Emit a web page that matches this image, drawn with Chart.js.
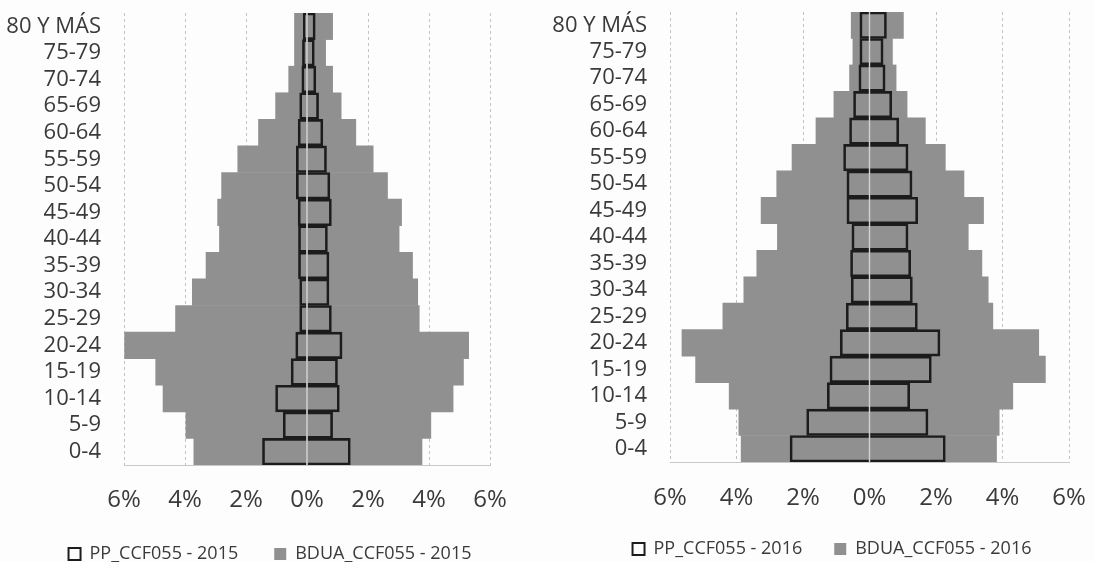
<!DOCTYPE html>
<html>
<head>
<meta charset="utf-8">
<script src="https://cdn.jsdelivr.net/npm/chart.js@4/dist/chart.umd.min.js"></script>
<style>
  html, body { margin: 0; padding: 0; background: #fdfdfd; overflow: hidden; width: 1094px; height: 562px; }
  .wrap { position: absolute; top: 0; height: 562px; }
  #w2015 { left: 0; width: 547px; }
  #w2016 { left: 547px; width: 580px; }
</style>
</head>
<body>
<div class="wrap" id="w2015"><canvas id="c2015"></canvas></div>
<div class="wrap" id="w2016"><canvas id="c2016"></canvas></div>
<script>
'use strict';

// ── Data (percent of population, top row first) ───────────────
const ageGroups = [
  '80 Y MÁS', '75-79', '70-74', '65-69', '60-64', '55-59', '50-54', '45-49',
  '40-44', '35-39', '30-34', '25-29', '20-24', '15-19', '10-14', '5-9', '0-4',
];

const xTicks = [-6, -4, -2, 0, 2, 4, 6];

const bduaLeft2015  = [0.41, 0.41, 0.60, 1.03, 1.59, 2.27, 2.80, 2.93, 2.87, 3.31, 3.76, 4.31, 5.98, 4.96, 4.72, 3.97, 3.71];
const bduaRight2015 = [0.84, 0.61, 0.84, 1.12, 1.60, 2.17, 2.64, 3.10, 3.02, 3.46, 3.63, 3.68, 5.30, 5.13, 4.79, 4.06, 3.77];
const ppLeft2015    = [0.12, 0.15, 0.17, 0.24, 0.29, 0.35, 0.35, 0.29, 0.28, 0.28, 0.24, 0.24, 0.37, 0.52, 1.03, 0.78, 1.46];
const ppRight2015   = [0.27, 0.24, 0.29, 0.38, 0.52, 0.64, 0.75, 0.80, 0.67, 0.72, 0.72, 0.80, 1.15, 1.00, 1.06, 0.84, 1.42];

const bduaLeft2016  = [0.55, 0.50, 0.60, 1.07, 1.61, 2.33, 2.79, 3.26, 2.77, 3.39, 3.78, 4.41, 5.64, 5.23, 4.22, 3.93, 3.86];
const bduaRight2016 = [1.02, 0.69, 0.80, 1.13, 1.68, 2.28, 2.84, 3.43, 2.97, 3.38, 3.57, 3.71, 5.09, 5.29, 4.31, 3.90, 3.82];
const ppLeft2016    = [0.29, 0.29, 0.32, 0.48, 0.60, 0.78, 0.68, 0.68, 0.53, 0.57, 0.55, 0.70, 0.88, 1.19, 1.27, 1.89, 2.39];
const ppRight2016   = [0.51, 0.41, 0.47, 0.67, 0.88, 1.16, 1.28, 1.45, 1.16, 1.24, 1.29, 1.44, 2.12, 1.86, 1.21, 1.76, 2.28];

// ── Styles ────────────────────────────────────────────────────
const TEXT    = '#3a3a3a';
const GRAY    = '#909090';
const OUTLINE = '#1c1c1c';
const FONT    = "'Open Sans', 'Noto Sans', sans-serif";
const CLEAR   = 'rgba(0,0,0,0)';

// light line along 0 where the two halves meet
const zeroLine = {
  id: 'zeroLine',
  afterDatasetsDraw(chart) {
    const { ctx, chartArea } = chart;
    const x = chart.scales.x.getPixelForValue(0);
    ctx.save();
    ctx.strokeStyle = 'rgba(215,215,215,0.8)';
    ctx.lineWidth = 1.5;
    ctx.beginPath();
    ctx.moveTo(x, chartArea.top);
    ctx.lineTo(x, chartArea.bottom);
    ctx.stroke();
    ctx.restore();
  },
};

function neg(arr) { return arr.map((v) => -v); }

function makePyramid(canvasId, year, series, lay) {
  const ppStyle = {
    backgroundColor: 'rgba(255,255,255,0)',
    borderColor: OUTLINE,
    borderWidth: 2,
    grouped: false,
    barPercentage: 1,
    categoryPercentage: 1,
  };
  const bduaStyle = {
    backgroundColor: GRAY,
    borderWidth: 0,
    grouped: false,
    barPercentage: 1,
    categoryPercentage: 1,
  };

  return new Chart(document.getElementById(canvasId), {
    type: 'bar',
    data: {
      labels: ageGroups,
      datasets: [
        { label: `PP_CCF055 - ${year}`,   data: neg(series.ppLeft),   ...ppStyle },
        { label: `PP_CCF055 - ${year}`,   data: series.ppRight,       ...ppStyle },
        { label: `BDUA_CCF055 - ${year}`, data: neg(series.bduaLeft), ...bduaStyle },
        { label: `BDUA_CCF055 - ${year}`, data: series.bduaRight,     ...bduaStyle },
      ],
    },
    plugins: [zeroLine],
    options: {
      indexAxis: 'y',
      responsive: true,
      maintainAspectRatio: false,
      animation: false,
      layout: { padding: { top: lay.top, left: 0, right: lay.right, bottom: lay.bottom } },
      plugins: {
        tooltip: { enabled: false },
        legend: {
          position: 'bottom',
          labels: {
            filter: (item) => item.datasetIndex === 0 || item.datasetIndex === 2,
            color: TEXT,
            font: { family: FONT, size: 18 },
            boxWidth: 12,
            boxHeight: 12,
            padding: lay.legendPad,
          },
        },
      },
      scales: {
        x: {
          min: -6,
          max: 6,
          afterBuildTicks: (s) => { s.ticks = xTicks.map((v) => ({ value: v })); },
          afterFit: (s) => { s.height = lay.xHeight; },
          ticks: {
            color: TEXT,
            font: { family: FONT, size: 24 },
            padding: 0,
            maxRotation: 0,
            callback: (v) => Math.abs(v) + '%',
          },
          grid: { color: '#c2c2c2', lineWidth: 1, drawTicks: true, tickLength: lay.xTick, tickColor: CLEAR },
          border: { display: true, color: '#c8c8c8', width: 1, dash: [3, 3] },
        },
        y: {
          afterFit: (s) => { s.width = lay.yWidth; },
          ticks: {
            color: TEXT,
            font: { family: FONT, size: 22, lineHeight: 1 },
            padding: 0,
            autoSkip: false,
          },
          grid: { display: true, drawOnChartArea: false, drawTicks: true, tickLength: 23, color: CLEAR, tickColor: CLEAR },
          border: { display: false },
        },
        // empty spacer on the right so the legend sits where it does in the original
        y2: {
          type: 'category',
          position: 'right',
          display: true,
          afterFit: (s) => { s.width = lay.spacer; },
          ticks: { display: false },
          grid: { display: false, drawTicks: false },
          border: { display: false },
        },
      },
    },
  });
}

makePyramid('c2015', 2015, {
  bduaLeft: bduaLeft2015, bduaRight: bduaRight2015,
  ppLeft: ppLeft2015, ppRight: ppRight2015,
}, { top: 13, right: 7, spacer: 50, bottom: -11, legendPad: 36, xHeight: 44, xTick: 21, yWidth: 124 });

makePyramid('c2016', 2016, {
  bduaLeft: bduaLeft2016, bduaRight: bduaRight2016,
  ppLeft: ppLeft2016, ppRight: ppRight2016,
}, { top: 12, right: 10, spacer: 48, bottom: -6, legendPad: 32, xHeight: 46, xTick: 22, yWidth: 123 });
</script>
</body>
</html>
